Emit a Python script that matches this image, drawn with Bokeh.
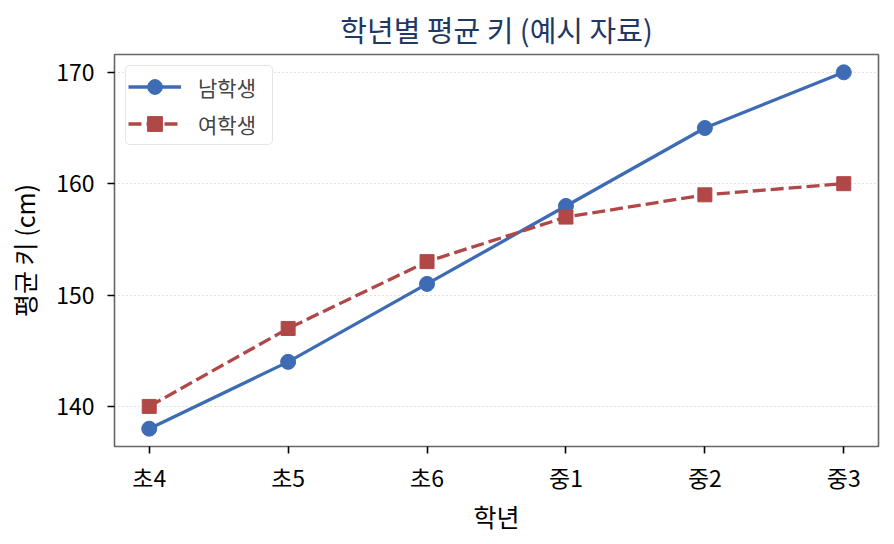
from bokeh.plotting import figure
from bokeh.models import Range1d, FixedTicker, ColumnDataSource, Legend, LegendItem
from bokeh.embed import file_html
from bokeh.resources import INLINE

grades = ["초4", "초5", "초6", "중1", "중2", "중3"]
boys = [138, 144, 151, 158, 165, 170]
girls = [140, 147, 153, 157, 159, 160]
y_ticks = [140, 150, 160, 170]

FONT = "Noto Sans CJK KR"
BLUE = "#3d6cb5"
RED = "#b04848"

xs = list(range(len(grades)))
src = ColumnDataSource(dict(x=xs, boys=boys, girls=girls))

p = figure(width=886, height=536, output_backend="svg", toolbar_location=None,
           x_range=Range1d(-0.25, len(grades) - 0.75),
           y_range=Range1d(136.4, 171.6),
           min_border_left=114, min_border_right=8, min_border_top=54, min_border_bottom=90)

p.title.text = "학년별 평균 키 (예시 자료)"
p.title.align = "center"
p.title.text_font = FONT
p.title.text_font_size = "29px"
p.title.text_font_style = "normal"
p.title.text_color = "#1f3864"
p.title.offset = 0
p.title.standoff = 9

p.outline_line_color = "#666666"
p.outline_line_width = 1.6
p.background_fill_color = "white"
p.border_fill_color = "white"

p.xgrid.grid_line_color = None
p.ygrid.grid_line_color = "#c4c4c4"
p.ygrid.grid_line_dash = "1 3"
p.ygrid.grid_line_width = 1.2

for ax in (p.xaxis[0], p.yaxis[0]):
    ax.axis_line_color = None
    ax.major_tick_in = 0
    ax.major_tick_out = 7
    ax.major_tick_line_width = 1.6
    ax.major_tick_line_color = "black"
    ax.minor_tick_line_color = None
    ax.major_label_text_font = FONT
    ax.major_label_text_font_size = "23px"
    ax.major_label_text_color = "black"
    ax.axis_label_text_font = FONT
    ax.axis_label_text_font_size = "25px"
    ax.axis_label_text_font_style = "normal"
    ax.axis_label_text_color = "black"

p.xaxis.ticker = FixedTicker(ticks=xs)
p.xaxis.major_label_overrides = {i: g for i, g in enumerate(grades)}
p.xaxis.axis_label = "학년"
p.xaxis.major_label_standoff = 6
p.xaxis.axis_label_standoff = 1

p.yaxis.ticker = FixedTicker(ticks=y_ticks)
p.yaxis.axis_label = "평균 키 (cm)"
p.yaxis.major_label_standoff = 13
p.yaxis.axis_label_standoff = 11

l1 = p.line("x", "boys", source=src, line_color=BLUE, line_width=3.3)
m1 = p.scatter("x", "boys", source=src, marker="circle", size=15, fill_color=BLUE, line_color=BLUE)
l2 = p.line("x", "girls", source=src, line_color=RED, line_width=3.3, line_dash="13 5")
m2 = p.scatter("x", "girls", source=src, marker="square", size=14, fill_color=RED, line_color=RED)

legend = Legend(items=[LegendItem(label="남학생", renderers=[l1, m1]),
                       LegendItem(label="여학생", renderers=[l2, m2])],
                location="top_left")
legend.label_text_font = FONT
legend.label_text_font_size = "21px"
legend.border_line_color = "#cccccc"
legend.border_line_width = 1.4
legend.border_radius = 5
legend.background_fill_alpha = 1
legend.glyph_width = 53
legend.glyph_height = 37
legend.label_standoff = 17
legend.label_width = 72
legend.padding = 2
legend.spacing = -3
legend.margin = 11
p.add_layout(legend)

open("out.html", "w").write(file_html(p, INLINE))
